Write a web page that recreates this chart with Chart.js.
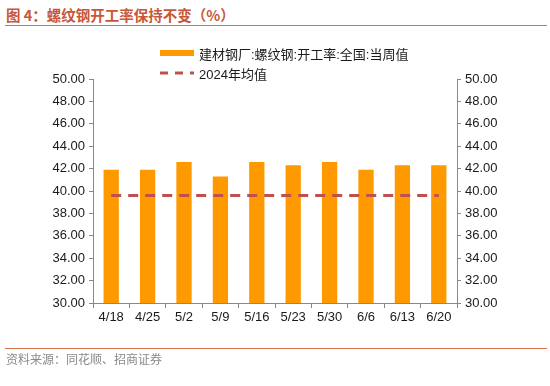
<!DOCTYPE html>
<html>
<head>
<meta charset="utf-8">
<script src="https://cdn.jsdelivr.net/npm/chart.js@4"></script>
<style>
  body { margin: 0; background: #fff; }
  #wrap { position: relative; width: 550px; height: 386px; overflow: hidden; font-family: "Liberation Sans", Arial, sans-serif; }
  #title { position: absolute; left: 6px; top: 4px; font: bold 14.5px "Noto Sans CJK SC", sans-serif; color: #c8573a; }
  .rule { position: absolute; left: 5px; width: 542px; height: 1px; background: #d8714a; }
  #src { position: absolute; left: 6px; top: 350px; font: 12px "Noto Sans CJK SC", sans-serif; color: #8a8a8a; }
  .leg { position: absolute; left: 160px; font-size: 13px; color: #1a1a1a; font-family: "Liberation Sans", "Noto Sans CJK SC", sans-serif; }
  .leg span { position: absolute; left: 39px; white-space: nowrap; }
  canvas { position: absolute; left: 0; top: 0; }
</style>
</head>
<body>
<div id="wrap">
  <div id="title">图 4：螺纹钢开工率保持不变（%）</div>
  <div class="rule" style="top:25px"></div>
  <canvas id="c" width="550" height="386"></canvas>
  <div class="leg" style="top:44px;height:18px">
    <svg width="36" height="18" style="position:absolute;left:0;top:0"><rect x="0" y="6" width="34" height="6" fill="#ff9900"/></svg>
    <span style="top:0">建材钢厂:螺纹钢:开工率:全国:当周值</span>
  </div>
  <div class="leg" style="top:64px;height:18px">
    <svg width="36" height="18" style="position:absolute;left:0;top:0"><line x1="0" y1="9" x2="34" y2="9" stroke="#c0504d" stroke-width="3" stroke-dasharray="8,7"/></svg>
    <span style="top:0">2024年均值</span>
  </div>
  <div class="rule" style="top:348px"></div>
  <div id="src">资料来源：同花顺、招商证券</div>
</div>
<script>
const weeks = ['4/18', '4/25', '5/2', '5/9', '5/16', '5/23', '5/30', '6/6', '6/13', '6/20'];
const rebarRate = [41.9, 41.9, 42.6, 41.3, 42.6, 42.3, 42.6, 41.9, 42.3, 42.3];
const avg2024 = [39.6, 39.6, 39.6, 39.6, 39.6, 39.6, 39.6, 39.6, 39.6, 39.6];
const yMin = 30, yMax = 50, yStep = 2;

const axisColor = '#888888';
const tickFont = { family: '"Liberation Sans", Arial, sans-serif', size: 13 };

const yAxis = (pos) => ({
  position: pos,
  min: yMin,
  max: yMax,
  border: { display: true, color: axisColor, width: 1 },
  grid: { drawOnChartArea: false, drawTicks: true, tickLength: 4, color: axisColor },
  ticks: { stepSize: yStep, color: '#1a1a1a', font: tickFont, padding: 4, callback: v => v.toFixed(2) },
  afterFit: s => { s.width = 43; }
});

new Chart(document.getElementById('c'), {
  data: {
    labels: weeks,
    datasets: [
      {
        type: 'line',
        label: '2024年均值',
        data: avg2024,
        borderColor: '#c0504d',
        borderWidth: 3,
        borderDash: [10, 7],
        pointRadius: 0,
        fill: false,
        yAxisID: 'y'
      },
      {
        type: 'bar',
        label: '建材钢厂:螺纹钢:开工率:全国:当周值',
        data: rebarRate,
        backgroundColor: '#ff9900',
        categoryPercentage: 1,
        barPercentage: 0.42,
        yAxisID: 'y'
      }
    ]
  },
  options: {
    responsive: false,
    animation: false,
    layout: { padding: { left: 50, right: 50, top: 79, bottom: 53 } },
    plugins: { legend: { display: false }, tooltip: { enabled: false } },
    scales: {
      x: {
        border: { display: true, color: axisColor, width: 1 },
        grid: { offset: true, drawOnChartArea: false, drawTicks: true, tickLength: 5, color: axisColor },
        ticks: { color: '#1a1a1a', font: tickFont, padding: 2, maxRotation: 0 },
        afterFit: s => { s.height = 30; }
      },
      y: yAxis('left'),
      y2: yAxis('right')
    }
  }
});
</script>
</body>
</html>
